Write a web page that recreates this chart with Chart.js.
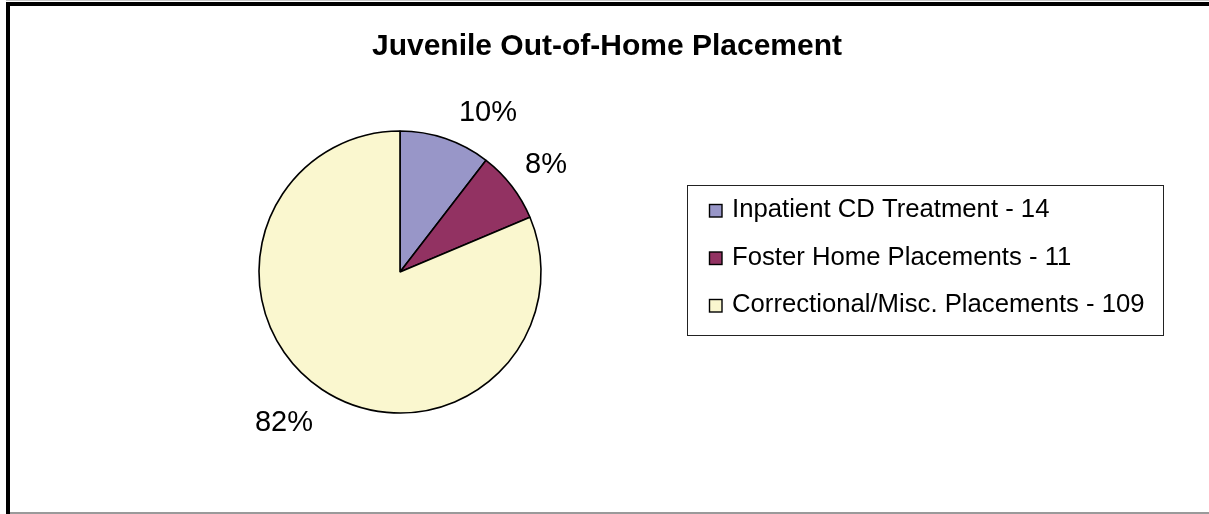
<!DOCTYPE html>
<html>
<head>
<meta charset="utf-8">
<script src="https://cdn.jsdelivr.net/npm/chart.js@4/dist/chart.umd.min.js"></script>
<style>
  html, body { margin: 0; padding: 0; background: #ffffff; }
  #wrap { position: relative; width: 1209px; height: 514px; }
</style>
</head>
<body>
<div id="wrap"><canvas id="c" width="1209" height="514"></canvas></div>
<script>
// ---- data ----
const chartTitle = "Juvenile Out-of-Home Placement";
const categories = ["Inpatient CD Treatment", "Foster Home Placements", "Correctional/Misc. Placements"];
const counts = [14, 11, 109];
const percentLabels = ["10%", "8%", "82%"];
const sliceColors = ["#9896C8", "#923262", "#FAF7CF"];

const legendLabels = categories.map((c, i) => c + " - " + counts[i]);

// label placement tweaks (angle nudge in degrees, distance from centre in px)
const labelPlacement = { nudgeDeg: [9.8, 0.8, 4.3], dist: [183.8, 182.4, 188.9] };

const FONT = '"Liberation Sans", Arial, Helvetica, sans-serif';

const decorPlugin = {
  id: 'decor',
  beforeDraw(chart) {
    const ctx = chart.ctx;
    ctx.save();
    ctx.fillStyle = '#ffffff';
    ctx.fillRect(0, 0, chart.width, chart.height);
    ctx.restore();
  },
  afterDraw(chart) {
    const ctx = chart.ctx;
    const meta = chart.getDatasetMeta(0);
    ctx.save();

    // frame
    ctx.fillStyle = '#c8c8c8';
    ctx.fillRect(6, 0, chart.width - 6, 1);
    ctx.fillStyle = '#000000';
    ctx.fillRect(6, 2, chart.width - 6, 4);
    ctx.fillRect(6, 2, 4, chart.height - 2);
    ctx.fillStyle = '#9a9a9a';
    ctx.fillRect(10, 512, chart.width - 10, 2);

    // title
    ctx.fillStyle = '#000000';
    ctx.font = 'bold 30px ' + FONT;
    ctx.textAlign = 'center';
    ctx.textBaseline = 'alphabetic';
    ctx.fillText(chartTitle, 607, 55);

    // percentage labels
    ctx.font = '29px ' + FONT;
    meta.data.forEach((arc, i) => {
      const p = arc.getProps(['x', 'y', 'startAngle', 'endAngle'], true);
      const mid = (p.startAngle + p.endAngle) / 2 + labelPlacement.nudgeDeg[i] * Math.PI / 180;
      const d = labelPlacement.dist[i];
      const x = p.x + d * Math.cos(mid);
      const y = p.y + d * Math.sin(mid);
      ctx.fillText(percentLabels[i], x, y + 10.4);
    });

    // legend
    ctx.strokeStyle = '#222222';
    ctx.lineWidth = 1;
    ctx.strokeRect(687.5, 185.5, 476, 150);
    ctx.textAlign = 'left';
    ctx.font = '25.7px ' + FONT;
    const baselines = [217, 264.5, 312];
    legendLabels.forEach((t, i) => {
      const b = baselines[i];
      ctx.fillStyle = sliceColors[i];
      ctx.fillRect(709.5, b - 12.5, 12.5, 12.5);
      ctx.strokeStyle = '#000000';
      ctx.lineWidth = 1.4;
      ctx.strokeRect(709.5, b - 12.5, 12.5, 12.5);
      ctx.fillStyle = '#000000';
      ctx.fillText(t, 732, b);
    });
    ctx.restore();
  }
};

new Chart(document.getElementById('c'), {
  type: 'pie',
  data: {
    labels: legendLabels,
    datasets: [{
      data: counts,
      backgroundColor: sliceColors,
      borderColor: '#000000',
      borderWidth: 1.6,
      borderAlign: 'center',
      radius: 141
    }]
  },
  options: {
    responsive: false,
    animation: false,
    devicePixelRatio: 1,
    layout: { padding: { left: 118, right: 527, top: 130, bottom: 100 } },
    plugins: {
      legend: { display: false },
      title: { display: false },
      tooltip: { enabled: false }
    }
  },
  plugins: [decorPlugin]
});
</script>
</body>
</html>
